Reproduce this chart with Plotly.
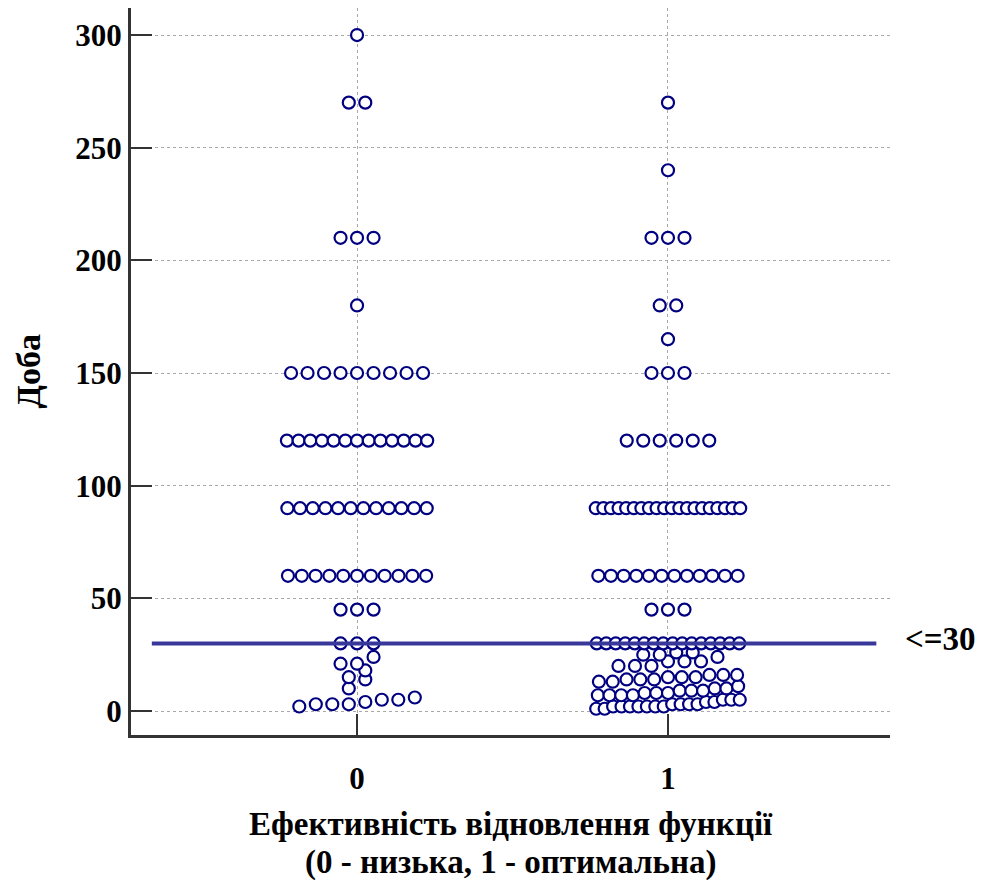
import numpy as np
import plotly.graph_objects as go

# ---- data -------------------------------------------------------------
CATEGORIES = [0, 1]
CATEGORY_LABELS = ["0", "1"]

# distinct day values and how many patients had each, per group
G0_VALUES = [300, 270, 210, 180, 150, 120, 90, 60, 45, 30, 24, 21, 18, 15, 14, 10, 6, 5, 4, 3, 2]
G0_COUNTS = [1, 2, 3, 1, 9, 13, 12, 11, 3, 3, 1, 2, 1, 1, 1, 1, 1, 2, 1, 3, 1]

G1_VALUES = [270, 240, 210, 180, 165, 150, 120, 90, 60, 45, 30, 26, 25, 24, 22, 20,
             16, 15, 14, 13, 11, 10, 9, 8, 7, 5, 4, 3, 2, 1]
G1_COUNTS = [1, 1, 3, 2, 1, 3, 6, 20, 12, 3, 16, 2, 2, 1, 3, 3,
             3, 3, 3, 2, 1, 2, 3, 3, 4, 3, 2, 4, 7, 2]

Y_TICKS = [0, 50, 100, 150, 200, 250, 300]
CUTOFF = 30
CUTOFF_LABEL = "<=30"

X_TITLE_LINES = ["Ефективність відновлення функції", "(0 - низька, 1 - оптимальна)"]
Y_TITLE = "Доба"

# ---- layout constants -------------------------------------------------
W, H = 984, 886
MARGIN = dict(l=131, r=94, t=8, b=151)
X_RANGE = [-0.727, 1.714]
Y_RANGE = [-10.65, 312]
PX_PER_X = (W - MARGIN["l"] - MARGIN["r"]) / (X_RANGE[1] - X_RANGE[0])

ROW_SPAN = 5          # values closer than this share one horizontal row
MAX_STEP_PX = 16.5    # spacing between neighbouring dots
ROW_WIDTH_PX = 152    # widest a row may spread

FONT = "Liberation Serif, Times New Roman, serif"
DOT_COLOR = "#000080"
LINE_COLOR = "#38389a"
AXIS_COLOR = "#333333"
GRID_COLOR = "#a8a8a8"


def swarm(center, values, counts):
    """Spread equal / near-equal values sideways so every dot stays visible."""
    vals = sorted(np.repeat(values, counts).tolist())
    rows = []
    for v in vals:
        if rows and v - rows[-1][0] < ROW_SPAN:
            rows[-1].append(v)
        else:
            rows.append([v])
    xs, ys = [], []
    for row in rows:
        n = len(row)
        step = min(MAX_STEP_PX, ROW_WIDTH_PX / n) / PX_PER_X
        for i, v in enumerate(row):
            xs.append(center + (i - (n - 1) / 2) * step)
            ys.append(v)
    return xs, ys


fig = go.Figure()
for cat, vals, cnts in [(CATEGORIES[0], G0_VALUES, G0_COUNTS),
                        (CATEGORIES[1], G1_VALUES, G1_COUNTS)]:
    xs, ys = swarm(cat, vals, cnts)
    fig.add_trace(go.Scatter(
        x=xs, y=ys, mode="markers", showlegend=False, hoverinfo="y",
        marker=dict(symbol="circle", size=12, color="white",
                    line=dict(color=DOT_COLOR, width=2.2)),
    ))

# cut-off reference line with its label
fig.add_shape(type="line", xref="x", yref="y", x0=-0.66, x1=1.67,
              y0=CUTOFF, y1=CUTOFF, layer="above",
              line=dict(color=LINE_COLOR, width=4))
fig.add_annotation(x=1.0, xref="paper", xanchor="left", xshift=13,
                   y=CUTOFF, yref="y", yanchor="middle", yshift=4,
                   text=CUTOFF_LABEL, showarrow=False,
                   font=dict(family=FONT, size=33, color="black", weight="bold"))

title_font = dict(family=FONT, size=33, color="black", weight="bold")

# axis titles placed as paper annotations
fig.add_annotation(x=0.5, xref="paper", y=-0.0, yref="paper", yanchor="middle",
                   yshift=-(824 - (H - MARGIN["b"])), text=X_TITLE_LINES[0],
                   showarrow=False, font=title_font)
fig.add_annotation(x=0.5, xref="paper", y=-0.0, yref="paper", yanchor="middle",
                   yshift=-(862 - (H - MARGIN["b"])), text=X_TITLE_LINES[1],
                   showarrow=False, font=title_font)
fig.add_annotation(x=0.0, xref="paper", xanchor="center", xshift=-(MARGIN["l"] - 28),
                   y=0.5, yref="paper", yanchor="middle", textangle=-90,
                   text=Y_TITLE, showarrow=False,
                   font=dict(family=FONT, size=34, color="black", weight="bold"))

axis_common = dict(
    showline=True, linecolor=AXIS_COLOR, linewidth=3,
    ticks="inside", ticklen=21, tickwidth=2, tickcolor=AXIS_COLOR,
    showgrid=True, gridcolor=GRID_COLOR, gridwidth=1, griddash="dot",
    zeroline=False, automargin=False,
    tickfont=dict(family=FONT, size=31, color="black", weight="bold"),
)

fig.update_xaxes(axis_common, range=X_RANGE, tickvals=CATEGORIES,
                 ticktext=CATEGORY_LABELS, ticklabelstandoff=14)
fig.update_yaxes(axis_common, range=Y_RANGE, tickvals=Y_TICKS)

fig.update_layout(
    width=W, height=H, margin=MARGIN,
    paper_bgcolor="white", plot_bgcolor="white",
    font=dict(family=FONT, color="black"),
)

fig.write_html("out.html")
